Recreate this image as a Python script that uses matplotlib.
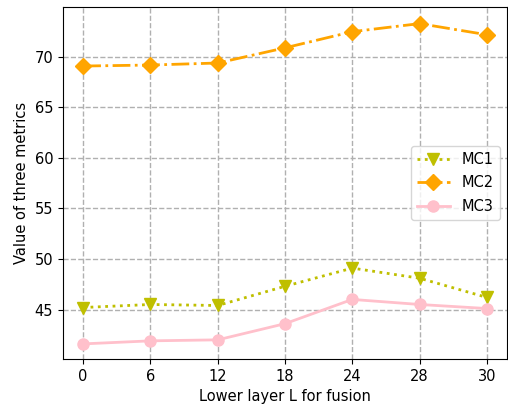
import matplotlib.pyplot as plt

plt.rcParams['font.family'] = ['DejaVu Sans']

layers = ['0', '6', '12', '18', '24', '28', '30']
mc1 = [45.2, 45.5, 45.4, 47.3, 49.1, 48.1, 46.2]
mc2 = [69.1, 69.2, 69.4, 70.9, 72.5, 73.3, 72.2]
mc3 = [41.6, 41.9, 42.0, 43.6, 46.0, 45.5, 45.1]

fig = plt.figure(figsize=(5.08, 4.08), dpi=100)
ax = fig.add_axes([0.124, 0.12, 0.874, 0.863])
x = range(len(layers))

ax.plot(x, mc1, ':', color='#bfbf00', marker='v', markersize=9, linewidth=2, label='MC1')
ax.plot(x, mc2, '-.', color='orange', marker='D', markersize=8, linewidth=2, label='MC2')
ax.plot(x, mc3, '-', color='pink', marker='o', markersize=8, linewidth=2, label='MC3')

ax.set_xticks(list(x))
ax.set_xticklabels(layers)
ax.set_xlim(-0.3, 6.3)
ax.set_ylim(40.1, 74.95)
ax.set_yticks([45, 50, 55, 60, 65, 70])
ax.tick_params(labelsize=10.5)
ax.grid(True, linestyle='--', color='#b0b0b0', linewidth=1)
ax.set_axisbelow(True)
ax.set_xlabel('Lower layer L for fusion', fontsize=10.5)
ax.set_ylabel('Value of three metrics', fontsize=10.5)
ax.legend(loc='center right', fontsize=10.5, handlelength=2.3, labelspacing=0.6)

fig.savefig('out.png', dpi=100)
